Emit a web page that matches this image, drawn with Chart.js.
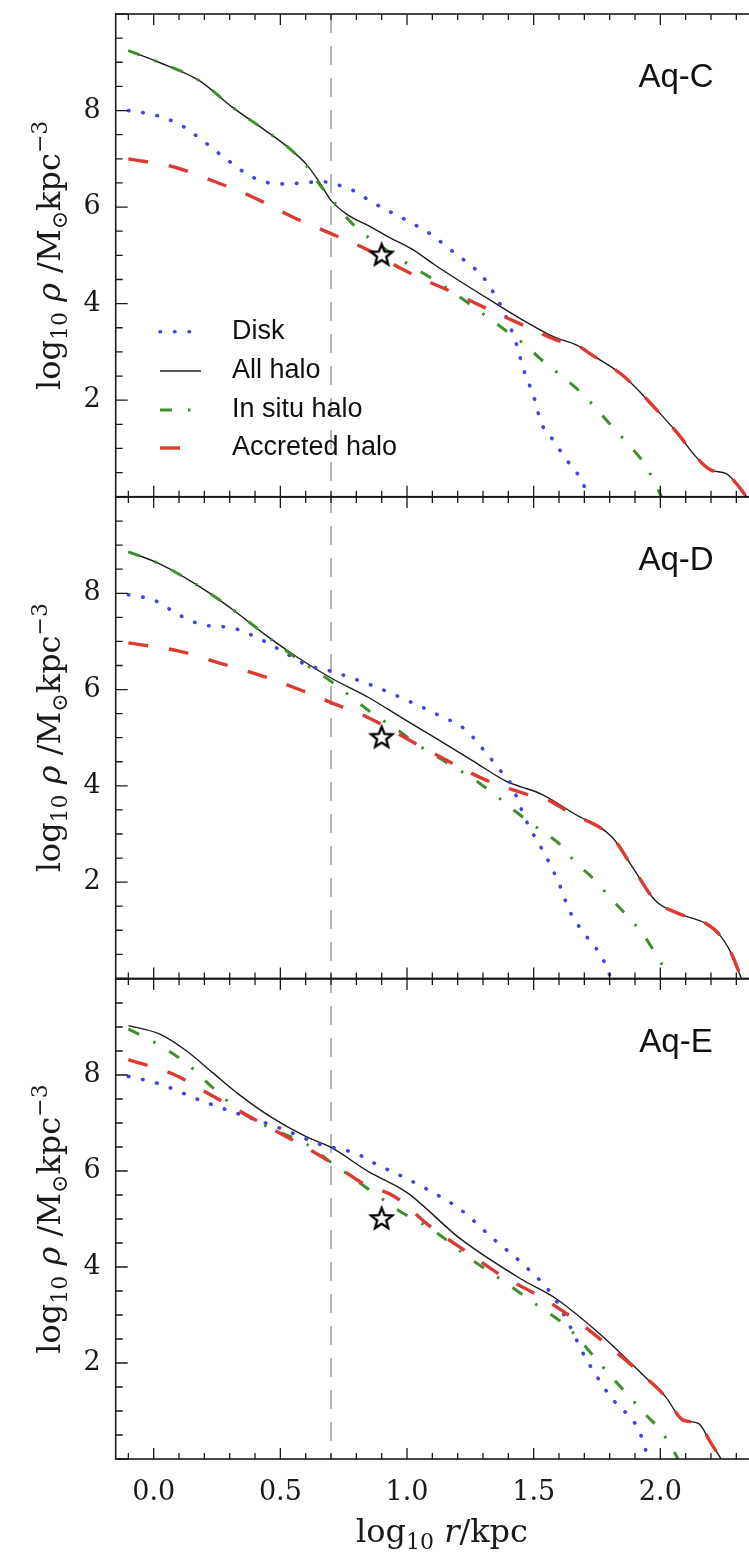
<!DOCTYPE html>
<html><head><meta charset="utf-8">
<script src="https://cdn.jsdelivr.net/npm/chart.js@4.4.1/dist/chart.umd.min.js"></script>
<style>
html,body{margin:0;padding:0;background:#fff;overflow:hidden;width:749px;height:1554px;position:relative;}
canvas{position:absolute;left:0;}
</style></head><body>
<canvas id="c1" width="800" height="510" style="top:0px"></canvas>
<canvas id="c2" width="800" height="512" style="top:480px"></canvas>
<canvas id="c3" width="800" height="594" style="top:960px"></canvas>
<script>
// ---------- data (log10 r/kpc , log10 rho) ----------
const xTicks = [0.0, 0.5, 1.0, 1.5, 2.0];
const yTicks = [2, 4, 6, 8];
const refR = 0.7;            // vertical dashed line
const starPoint = {x: 0.9, y: 5};
const panelNames = ['Aq-C', 'Aq-D', 'Aq-E'];
const seriesNames = ['Disk', 'All halo', 'In situ halo', 'Accreted halo'];

// Aq-C
const cDiskR = [-0.10,0.01,0.11,0.20,0.29,0.39,0.49,0.59,0.66,0.72,0.80,0.85,1.00,1.09,1.19,1.26,1.30,1.34,1.39,1.43,1.46,1.50,1.53,1.58,1.63,1.67,1.71,1.73];
const cDisk  = [8.00,7.90,7.69,7.35,6.98,6.62,6.48,6.50,6.53,6.47,6.31,6.14,5.72,5.45,5.04,4.76,4.55,4.24,3.74,3.19,2.64,2.08,1.53,1.15,0.76,0.50,0.10,-0.15];
const cHaloR = [-0.10,0.02,0.18,0.31,0.44,0.53,0.60,0.65,0.70,0.76,0.86,0.92,1.02,1.11,1.36,1.47,1.58,1.67,1.72,1.85,1.98,2.07,2.14,2.20,2.26,2.31,2.34];
const cHalo  = [9.24,9.00,8.62,8.07,7.59,7.24,6.90,6.55,6.14,5.86,5.58,5.40,5.13,4.80,3.97,3.62,3.31,3.14,2.97,2.52,1.83,1.30,0.83,0.55,0.48,0.21,0.00];
const cInsituR = [-0.10,0.02,0.18,0.31,0.44,0.53,0.60,0.65,0.70,0.76,0.81,0.98,1.15,1.30,1.38,1.46,1.53,1.61,1.68,1.75,1.81,1.88,1.94,2.00,2.03];
const cInsitu  = [9.24,9.00,8.62,8.07,7.59,7.24,6.88,6.50,6.18,5.79,5.53,4.90,4.35,3.79,3.48,3.17,2.84,2.50,2.19,1.81,1.45,1.05,0.66,0.05,-0.30];
const cAccR = [-0.10,0.08,0.23,0.39,0.55,0.70,0.85,0.99,1.19,1.33,1.46,1.61,1.67,1.72,1.85,1.98,2.07,2.14,2.20,2.26,2.31,2.34];
const cAcc  = [7.00,6.83,6.55,6.21,5.79,5.45,5.10,4.69,4.21,3.86,3.55,3.21,3.14,2.97,2.52,1.83,1.30,0.83,0.55,0.48,0.21,0.00];

// Aq-D
const dDiskR = [-0.10,0.00,0.10,0.19,0.31,0.40,0.51,0.60,0.70,0.76,0.87,1.02,1.12,1.23,1.30,1.37,1.41,1.47,1.55,1.60,1.64,1.70,1.76,1.79,1.81];
const dDisk  = [7.97,7.86,7.55,7.35,7.28,7.10,6.79,6.52,6.38,6.28,6.07,5.73,5.48,5.17,4.76,4.31,4.04,3.28,2.52,1.97,1.42,0.93,0.52,0.21,-0.10];
const dHaloR = [-0.10,0.02,0.21,0.34,0.44,0.57,0.70,0.85,0.98,1.11,1.26,1.39,1.45,1.53,1.66,1.81,1.89,1.98,2.07,2.18,2.23,2.28,2.32];
const dHalo  = [8.86,8.62,8.04,7.55,7.14,6.66,6.24,5.83,5.41,5.00,4.52,4.10,3.98,3.83,3.42,2.93,2.31,1.62,1.35,1.14,0.93,0.52,0.00];
const dInsituR = [-0.10,0.02,0.21,0.34,0.44,0.55,0.70,0.87,0.96,1.04,1.19,1.29,1.36,1.44,1.53,1.60,1.67,1.73,1.80,1.86,1.93,1.98,2.03,2.05];
const dInsitu  = [8.86,8.62,8.04,7.55,7.14,6.70,6.17,5.48,5.17,4.86,4.38,4.04,3.76,3.42,3.07,2.80,2.38,2.10,1.69,1.35,0.93,0.52,0.07,-0.15];
const dAccR = [-0.10,0.10,0.26,0.43,0.59,0.70,0.85,1.04,1.16,1.32,1.47,1.55,1.64,1.81,1.89,1.98,2.07,2.18,2.23,2.28,2.32];
const dAcc  = [6.97,6.80,6.55,6.28,5.97,5.73,5.41,4.86,4.52,4.10,3.83,3.72,3.45,2.93,2.31,1.62,1.35,1.14,0.93,0.52,0.00];

// Aq-E
const eDiskR = [-0.10,0.02,0.18,0.34,0.51,0.65,0.81,0.85,1.04,1.21,1.34,1.46,1.58,1.64,1.70,1.74,1.77,1.80,1.84,1.88,1.91,1.93,1.945,1.96];
const eDisk  = [7.97,7.82,7.48,7.18,6.87,6.57,6.34,6.22,5.73,5.20,4.59,4.05,3.37,2.80,2.15,1.80,1.55,1.32,1.08,0.88,0.65,0.40,0.13,-0.10];
const eHaloR = [-0.10,0.02,0.13,0.23,0.34,0.47,0.60,0.70,0.85,1.00,1.21,1.45,1.58,1.76,1.94,2.02,2.09,2.15,2.20,2.24];
const eHalo  = [9.03,8.86,8.50,8.06,7.58,7.10,6.72,6.49,5.98,5.55,4.59,3.75,3.37,2.61,1.71,1.30,0.81,0.74,0.33,0.00];
const eInsituR = [-0.10,0.01,0.13,0.23,0.34,0.47,0.60,0.70,0.87,0.96,1.11,1.24,1.39,1.51,1.63,1.76,1.80,1.87,1.93,2.00,2.05,2.08];
const eInsitu  = [8.96,8.66,8.24,7.75,7.25,6.87,6.57,6.18,5.54,5.20,4.74,4.21,3.67,3.22,2.76,2.00,1.75,1.35,0.99,0.60,0.19,-0.10];
const eAccR = [-0.10,0.08,0.21,0.39,0.55,0.70,0.83,0.95,1.09,1.24,1.37,1.53,1.68,1.79,1.92,2.02,2.09,2.15,2.20,2.24];
const eAcc  = [8.32,8.01,7.63,7.10,6.64,6.18,5.73,5.47,4.85,4.30,3.83,3.37,2.84,2.38,1.80,1.30,0.81,0.74,0.33,0.00];

// ---------- styles ----------
const STY = {
  disk:     {color:'#4343e2', width:3.6, dash:[0.5,14], cap:'round'},
  halo:     {color:'#1c1c1c', width:1.4, dash:[], cap:'butt'},
  insitu:   {color:'#3f8f2c', width:3.0, dash:[12,16,2.5,16], cap:'butt'},
  accreted: {color:'#db3b33', width:3.4, dash:[20,21], cap:'butt'}
};
const LEFT = 115.7, XMIN = -0.15, XMAX = 2.5;
const SERIF = '"DejaVu Serif"', SANS = '"Liberation Sans", Arial, sans-serif';

function pts(r, v){ return r.map((x,i)=>({x:x, y:v[i]})); }

function makeStar(){
  const c = document.createElement('canvas'); c.width = 30; c.height = 30;
  const g = c.getContext('2d'); g.translate(15,15); g.beginPath();
  for(let i=0;i<10;i++){ const r = i%2 ? 4.8 : 11.2; const a = -Math.PI/2 + i*Math.PI/5; g.lineTo(r*Math.cos(a), r*Math.sin(a)); }
  g.closePath(); g.fillStyle='#fff'; g.fill(); g.lineWidth=2.3; g.strokeStyle='#000'; g.lineJoin='miter'; g.stroke();
  return c;
}
const starImg = makeStar();

function fontOf(p){ return (p.it?'italic ':'') + (p.s||32) + 'px ' + SERIF; }
function richWidth(ctx, parts){ let w=0; for(const p of parts){ ctx.font=fontOf(p); w+=ctx.measureText(p.t).width; } return w; }
function drawRich(ctx, parts, cx, by){
  let x = cx - richWidth(ctx, parts)/2;
  ctx.textAlign='left'; ctx.textBaseline='alphabetic';
  for(const p of parts){ ctx.font=fontOf(p); ctx.fillText(p.t, x, by + (p.dy||0)); x += ctx.measureText(p.t).width; }
}
const yLabelParts = [{t:'log'},{t:'10',s:22,dy:7},{t:' '},{t:'ρ',it:true},{t:' /M'},{t:'⊙',s:22,dy:7},{t:'kpc'},{t:'−3',s:22,dy:-13}];
const xLabelParts = [{t:'log'},{t:'10',s:22,dy:7},{t:' '},{t:'r',it:true},{t:'/kpc'}];

const framePlugin = {
  id:'frame',
  beforeDatasetsDraw(chart, args, o){
    const {ctx, chartArea:a, scales:{x}} = chart;
    ctx.save();
    ctx.beginPath(); ctx.rect(a.left, a.top, a.right-a.left, a.bottom-a.top); ctx.clip();
    ctx.strokeStyle='#a2a2a2'; ctx.lineWidth=1.6; ctx.setLineDash([19,13]);
    ctx.lineDashOffset = (o.pageTop + a.top - 14) % 32;
    const xv = x.getPixelForValue(refR);
    ctx.beginPath(); ctx.moveTo(xv, a.top); ctx.lineTo(xv, a.bottom); ctx.stroke();
    ctx.restore();
  },
  afterDraw(chart, args, o){
    const {ctx, chartArea:a, scales:{x, y}} = chart;
    ctx.save();
    // ticks
    ctx.strokeStyle='#1a1a1a'; ctx.lineWidth=1.3; ctx.setLineDash([]);
    ctx.beginPath();
    for(let k=-1;k<=25;k++){
      const px = x.getPixelForValue(k/10); const L = (k%5===0)?11:6;
      ctx.moveTo(px, a.top); ctx.lineTo(px, a.top+L);
      ctx.moveTo(px, a.bottom); ctx.lineTo(px, a.bottom-L);
    }
    for(let k=0;k<=20;k++){
      const v=k/2; const py = y.getPixelForValue(v); const L = (v%2===0)?12:7;
      ctx.moveTo(a.left, py); ctx.lineTo(a.left+L, py);
      ctx.moveTo(a.right, py); ctx.lineTo(a.right-L, py);
    }
    ctx.stroke();
    // spines
    ctx.lineWidth=1.6; ctx.strokeStyle='#1a1a1a';
    ctx.strokeRect(a.left, a.top, a.right-a.left, a.bottom-a.top);
    // panel name
    ctx.fillStyle='#111'; ctx.font='33px '+SANS; ctx.textAlign='center'; ctx.textBaseline='middle';
    ctx.fillText(o.name, 676, a.top+64);
    // y label
    ctx.save(); ctx.fillStyle='#1a1a1a';
    ctx.translate(60, (a.top+a.bottom)/2); ctx.rotate(-Math.PI/2);
    drawRich(ctx, yLabelParts, 0, 0);
    ctx.restore();
    // x label
    if(o.xTitle){ ctx.fillStyle='#1a1a1a'; drawRich(ctx, xLabelParts, 442, 1542 - o.pageTop); }
    // legend
    if(o.legend){
      const rows = [['disk',331.7],['halo',371],['insitu',410],['accreted',448]];
      rows.forEach(([k,ry],i)=>{
        const s = STY[k];
        ctx.save(); ctx.strokeStyle=s.color; ctx.lineWidth=s.width; ctx.lineCap=s.cap; ctx.setLineDash(s.dash);
        ctx.beginPath(); ctx.moveTo(160, ry); ctx.lineTo(201, ry); ctx.stroke(); ctx.restore();
        ctx.fillStyle='#111'; ctx.font='27px '+SANS; ctx.textAlign='left'; ctx.textBaseline='middle';
        ctx.fillText(seriesNames[i], 232, ry);
      });
    }
    ctx.restore();
  }
};

function ds(label, data, key, order){
  const s = STY[key];
  return {label, data, borderColor:s.color, backgroundColor:s.color, borderWidth:s.width, borderDash:s.dash,
    borderCapStyle:s.cap, pointRadius:0, fill:false, cubicInterpolationMode:'monotone', order};
}

function build(id, name, pageTop, padTop, padBottom, isBottom, legend, D){
  const scales = {
    x: isBottom ? {type:'linear', min:XMIN, max:XMAX,
        afterFit(s){ s.height = 95; s.paddingLeft=0; s.paddingRight=0; },
        afterBuildTicks(s){ s.ticks = xTicks.map(v=>({value:v})); },
        ticks:{font:{family:'DejaVu Serif', size:27}, color:'#1a1a1a', padding:18, maxRotation:0, autoSkip:false, callback:v=>Number(v).toFixed(1)},
        grid:{display:false, drawTicks:false}, border:{display:false}}
      : {type:'linear', min:XMIN, max:XMAX, display:false},
    y: {type:'linear', min:0, max:10,
        afterFit(s){ s.width = LEFT; s.paddingTop=0; s.paddingBottom=0; },
        afterBuildTicks(s){ s.ticks = yTicks.map(v=>({value:v})); },
        ticks:{font:{family:'DejaVu Serif', size:27}, color:'#1a1a1a', padding:15, autoSkip:false, callback:v=>String(v)},
        grid:{display:false, drawTicks:false}, border:{display:false}}
  };
  return new Chart(document.getElementById(id), {
    type:'line',
    data:{datasets:[
      {label:'star', data:[starPoint], showLine:false, pointStyle:starImg, pointRadius:12, order:0},
      ds('Accreted halo', pts(D.accR, D.acc), 'accreted', 1),
      ds('In situ halo', pts(D.insR, D.ins), 'insitu', 2),
      ds('Disk', pts(D.diskR, D.disk), 'disk', 3),
      ds('All halo', pts(D.haloR, D.halo), 'halo', 4)
    ]},
    options:{responsive:false, animation:false, events:[],
      layout:{padding:{top:padTop, bottom:padBottom, left:0, right:800-(LEFT+(XMAX-XMIN)*255.35)}},
      scales,
      plugins:{legend:{display:false}, tooltip:{enabled:false}, frame:{name, pageTop, legend, xTitle:isBottom}}
    },
    plugins:[framePlugin]
  });
}

build('c1', panelNames[0], 0, 14, 13.3, false, true,
  {diskR:cDiskR, disk:cDisk, haloR:cHaloR, halo:cHalo, insR:cInsituR, ins:cInsitu, accR:cAccR, acc:cAcc});
build('c2', panelNames[1], 480, 17, 13.6, false, false,
  {diskR:dDiskR, disk:dDisk, haloR:dHaloR, halo:dHalo, insR:dInsituR, ins:dInsitu, accR:dAccR, acc:dAcc});
build('c3', panelNames[2], 960, 19, 0, true, false,
  {diskR:eDiskR, disk:eDisk, haloR:eHaloR, halo:eHalo, insR:eInsituR, ins:eInsitu, accR:eAccR, acc:eAcc});
</script>
</body></html>
